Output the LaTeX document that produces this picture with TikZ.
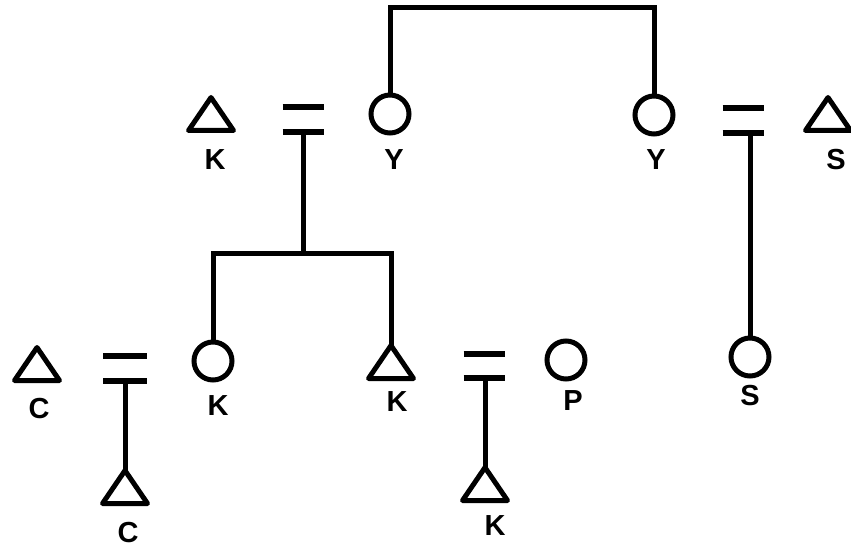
\documentclass[tikz,border=0pt]{standalone}
\usepackage{fontspec}
\setmainfont{Liberation Sans}
\begin{document}
\begin{tikzpicture}[x=1pt,y=-1pt,
  line join=miter,
  conn/.style={line width=5pt},
  circ/.style={circle,draw,line width=5pt,minimum size=38pt,inner sep=0pt,outer sep=0pt},
  tribox/.style={rectangle,minimum width=45pt,minimum height=33pt,inner sep=0pt,outer sep=0pt},
  trisym/.style={line width=5pt,line join=round},
  eqbox/.style={rectangle,minimum width=41pt,minimum height=25pt,inner sep=0pt,outer sep=0pt},
  eqbar/.style={line width=6pt},
  lab/.style={inner sep=0pt,font=\fontsize{29pt}{29pt}\selectfont\bfseries}]
\useasboundingbox (0,0) rectangle (851,548);
% circles (female)
\node[circ] (y1) at (390,114) {};
\node[circ] (y2) at (654,115) {};
\node[circ] (kc) at (213,361) {};
\node[circ] (pc) at (566,360) {};
\node[circ] (sc) at (750,357) {};
% triangles (male)
\node[tribox] (kt1) at (211,114) {};
\node[tribox] (st1) at (828,114) {};
\node[tribox] (ct1) at (37,364) {};
\node[tribox] (kt2) at (391,362) {};
\node[tribox] (ct2) at (125,487) {};
\node[tribox] (kt3) at (485,484) {};
\foreach \t in {kt1,st1,ct1,kt2,ct2,kt3}
  \draw[trisym] (\t.south west) -- (\t.north) -- (\t.south east) -- cycle;
% marriage signs
\node[eqbox] (m1) at (303,119.5) {};
\node[eqbox] (m2) at (743,121) {};
\node[eqbox,minimum width=44pt] (m3) at (125,368.5) {};
\node[eqbox,minimum height=24pt] (m4) at (484,366) {};
\foreach \m in {m1,m2,m3,m4} {
  \draw[eqbar] (\m.north west) -- (\m.north east);
  \draw[eqbar] (\m.south west) -- (\m.south east);
}
% labels
\node[lab] (ly1) at (394,160) {Y};
\node[lab] (ly2) at (656,160) {Y};
\node[lab] (lk1) at (215,160) {K};
\node[lab] (ls1) at (836,160) {S};
\node[lab] (lc1) at (39,409) {C};
\node[lab] (lk2) at (218,406) {K};
\node[lab] (lk3) at (397,402) {K};
\node[lab] (lp) at (573,401) {P};
\node[lab] (ls2) at (750,396) {S};
\node[lab] (lc2) at (128,533) {C};
\node[lab] (lk4) at (495,526) {K};
% connectors
\coordinate (top) at (520,8);
\coordinate (mid) at (301,253);
\draw[conn] (y1.north) |- (top) -| (y2.north);
\draw[conn] (m1.south) -- (m1.south |- mid);
\draw[conn] (kc.north) |- (mid) -| (kt2.north);
\draw[conn] (sc.north |- m2.south) -- (sc.north);
\draw[conn] (m3.south) -- (ct2.north);
\draw[conn] (kt3.north |- m4.south) -- (kt3.north);
\end{tikzpicture}
\end{document}
